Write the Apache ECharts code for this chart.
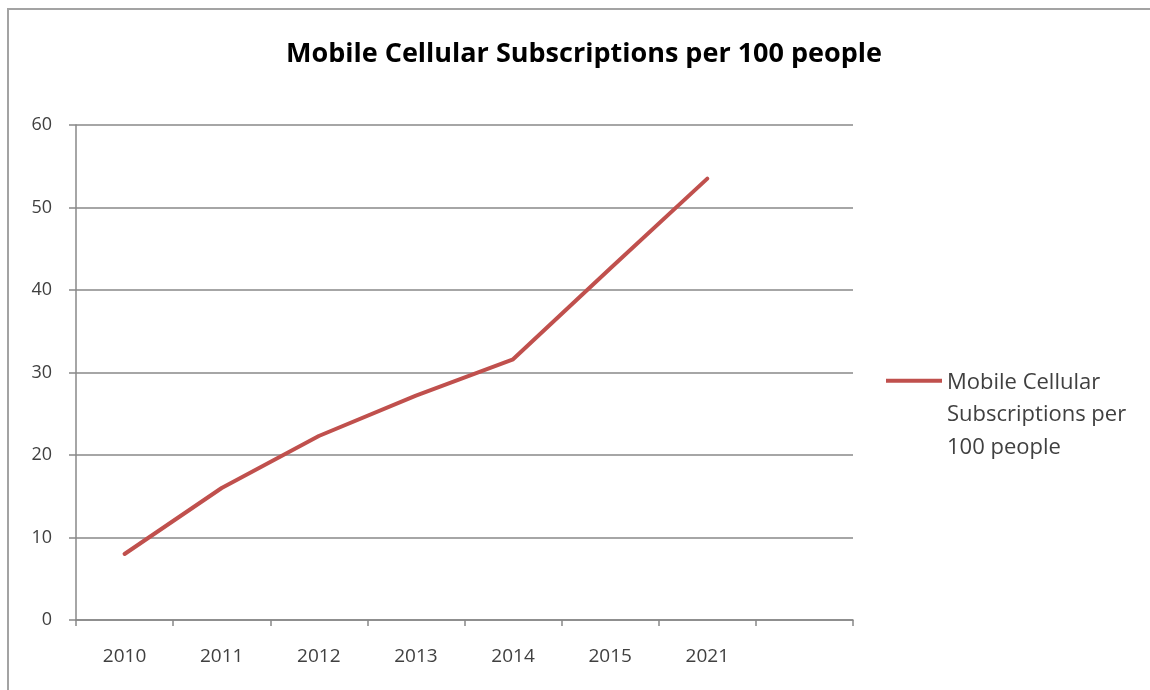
<!DOCTYPE html>
<html>
<head>
<meta charset="utf-8">
<script src="https://cdn.jsdelivr.net/npm/echarts@6/dist/echarts.min.js"></script>
<style>
  html, body { margin: 0; padding: 0; background: #fff; }
  #chart { width: 1150px; height: 690px; }
</style>
</head>
<body>
<div id="chart"></div>
<script>
// Year categories; the last slot on the axis is left empty
const years = ['2010', '2011', '2012', '2013', '2014', '2015', '2021', ''];
// Mobile cellular subscriptions per 100 people
const subscriptions = [8.0, 16.0, 22.3, 27.2, 31.6, 42.6, 53.5];
const yTicks = { min: 0, max: 60, step: 10 };
const seriesName = 'Mobile Cellular Subscriptions per 100 people';
const legendLines = ['Mobile Cellular', 'Subscriptions per', '100 people'];

const FONT = '"Open Sans", "DejaVu Sans", sans-serif';
const GRID_COLOR = '#888888';
const TEXT_COLOR = '#404040';

const chart = echarts.init(document.getElementById('chart'), null, { renderer: 'canvas' });

// Legend key: a short bar level with the first text line. Tiny corner
// specks set the icon's box to the full height of the three-line label.
const legendIcon = 'path://M0,0 H0.01 V0.01 H0 Z M0,12 H56 V16 H0 Z M0,95.99 H0.01 V96 H0 Z';

chart.setOption({
  animation: false,
  backgroundColor: '#ffffff',
  title: {
    text: 'Mobile Cellular Subscriptions per 100 people',
    left: 579,
    textAlign: 'center',
    top: 36,
    textStyle: { fontFamily: FONT, fontWeight: 'bold', fontSize: 27, color: '#000000' }
  },
  graphic: [{
    type: 'rect',
    shape: { x: 8, y: 9, width: 1300, height: 900 },
    style: { fill: null, stroke: '#a3a3a3', lineWidth: 2 },
    silent: true,
    z: -1
  }],
  legend: {
    left: 881,
    top: 361,
    orient: 'vertical',
    itemWidth: 56,
    itemHeight: 96,
    data: [{ name: seriesName, icon: legendIcon }],
    formatter: () => legendLines.join('\n'),
    textStyle: {
      fontFamily: FONT, fontSize: 22, color: TEXT_COLOR, lineHeight: 32.5
    }
  },
  grid: { left: 76, right: 297, top: 125, bottom: 70, containLabel: false },
  xAxis: {
    type: 'category',
    data: years,
    boundaryGap: true,
    axisLine: { lineStyle: { color: GRID_COLOR, width: 1.5 } },
    axisTick: { show: true, length: 6, lineStyle: { color: GRID_COLOR, width: 1.5 } },
    axisLabel: { fontFamily: FONT, fontSize: 19, color: TEXT_COLOR, margin: 27 },
    splitLine: { show: false }
  },
  yAxis: {
    type: 'value',
    min: yTicks.min,
    max: yTicks.max,
    interval: yTicks.step,
    axisLine: { show: true, lineStyle: { color: GRID_COLOR, width: 1.5 } },
    axisTick: { show: true, length: 7, lineStyle: { color: GRID_COLOR, width: 1.5 } },
    axisLabel: { fontFamily: FONT, fontSize: 18, color: TEXT_COLOR, margin: 24 },
    splitLine: { show: true, lineStyle: { color: GRID_COLOR, width: 1.5 } }
  },
  series: [{
    name: seriesName,
    type: 'line',
    data: subscriptions,
    symbol: 'none',
    lineStyle: { color: '#c0504d', width: 4, cap: 'round', join: 'round' },
    itemStyle: { color: '#c0504d' }
  }]
});
</script>
</body>
</html>
